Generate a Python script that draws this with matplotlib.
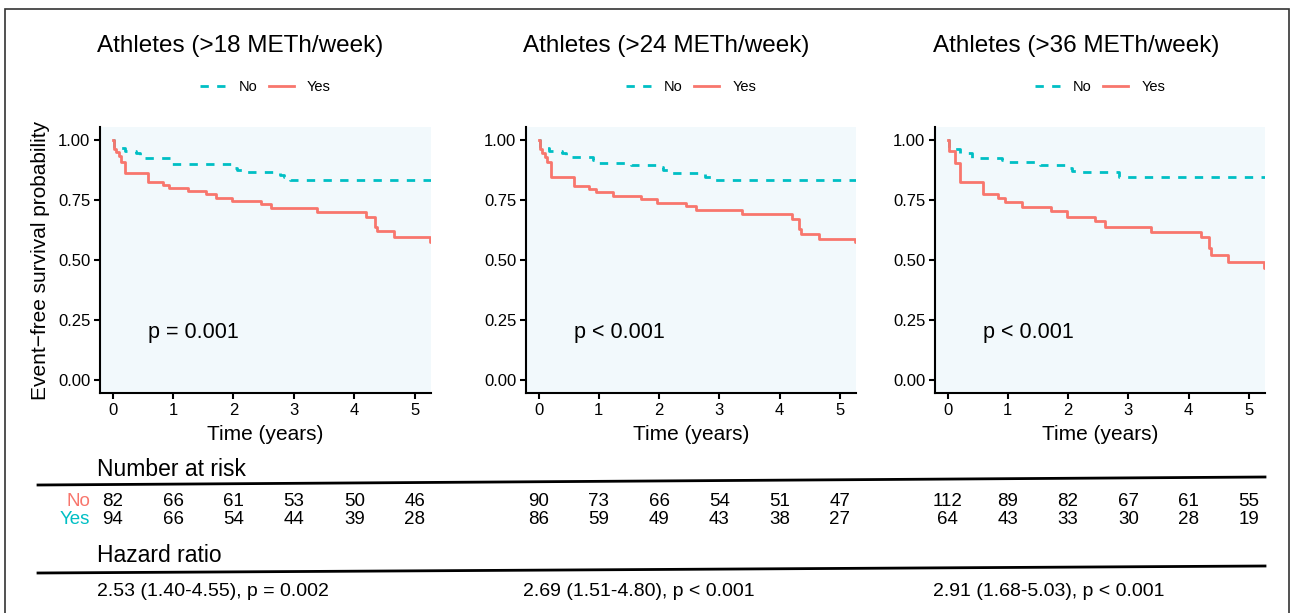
import matplotlib.pyplot as plt
from matplotlib.lines import Line2D
from matplotlib.patches import Rectangle

plt.rcParams['font.family'] = ['Liberation Sans', 'DejaVu Sans']

W, H = 1291, 613
RED = '#F8766D'
TEAL = '#00BFC4'
BG = '#F2F9FC'

titles = ['Athletes (>18 METh/week)', 'Athletes (>24 METh/week)', 'Athletes (>36 METh/week)']
pvals = ['p = 0.001', 'p < 0.001', 'p < 0.001']
hazard = ['2.53 (1.40-4.55), p = 0.002', '2.69 (1.51-4.80), p < 0.001', '2.91 (1.68-5.03), p < 0.001']

risk_times = [0, 1, 2, 3, 4, 5]
risk_no = [[82, 66, 61, 53, 50, 46], [90, 73, 66, 54, 51, 47], [112, 89, 82, 67, 61, 55]]
risk_yes = [[94, 66, 54, 44, 39, 28], [86, 59, 49, 43, 38, 27], [64, 43, 33, 30, 28, 19]]

# Kaplan-Meier steps, group "Yes" (red, solid)
yes_t = [
    [0, 0.02, 0.05, 0.1, 0.14, 0.2, 0.59, 0.84, 0.94, 1.24, 1.54, 1.71, 1.98, 2.45, 2.62, 3.38, 4.2, 4.34, 4.38, 4.65, 5.25, 5.3],
    [0, 0.02, 0.06, 0.1, 0.14, 0.21, 0.58, 0.84, 0.95, 1.23, 1.7, 1.97, 2.44, 2.62, 3.38, 4.2, 4.32, 4.35, 4.65, 5.25, 5.3],
    [0, 0.02, 0.13, 0.2, 0.59, 0.84, 0.95, 1.24, 1.71, 1.98, 2.45, 2.62, 3.38, 4.2, 4.34, 4.38, 4.65, 5.25, 5.3],
]
yes_s = [
    [1.0, 0.961, 0.95, 0.935, 0.91, 0.861, 0.824, 0.812, 0.799, 0.787, 0.775, 0.757, 0.746, 0.732, 0.715, 0.70, 0.681, 0.639, 0.622, 0.597, 0.576, 0.576],
    [1.0, 0.961, 0.944, 0.93, 0.91, 0.847, 0.808, 0.796, 0.785, 0.767, 0.753, 0.739, 0.725, 0.708, 0.69, 0.671, 0.629, 0.608, 0.589, 0.575, 0.575],
    [1.0, 0.956, 0.906, 0.826, 0.775, 0.757, 0.743, 0.722, 0.706, 0.681, 0.6625, 0.639, 0.618, 0.597, 0.549, 0.521, 0.493, 0.465, 0.465],
]
# group "No" (teal, dashed)
no_t = [
    [0, 0.02, 0.2, 0.39, 0.45, 0.95, 0.99, 2.0, 2.06, 2.14, 2.77, 2.83, 2.93, 5.3],
    [0, 0.02, 0.17, 0.39, 0.45, 0.9, 0.99, 1.54, 2.0, 2.06, 2.14, 2.77, 2.93, 5.3],
    [0, 0.02, 0.2, 0.4, 0.9, 0.99, 1.54, 2.0, 2.06, 2.14, 2.84, 5.3],
]
no_s = [
    [1.0, 0.965, 0.955, 0.945, 0.924, 0.91, 0.899, 0.885, 0.875, 0.865, 0.855, 0.845, 0.833, 0.833],
    [1.0, 0.965, 0.956, 0.944, 0.931, 0.917, 0.906, 0.896, 0.889, 0.875, 0.864, 0.847, 0.833, 0.833],
    [1.0, 0.961, 0.944, 0.924, 0.917, 0.91, 0.896, 0.882, 0.872, 0.865, 0.847, 0.847],
]

fig = plt.figure(figsize=(W / 100, H / 100), dpi=100)

def fx(px):
    return px / W

def fy(py):
    return 1 - py / H

lefts = [100, 526, 935]
rights = [431, 856, 1265]
text_left = [97, 523, 933]
top, bottom = 127, 393

# outer frame
fig.add_artist(Rectangle((fx(5), fy(640)), fx(1289) - fx(5), fy(9) - fy(640),
                         transform=fig.transFigure, fill=False, edgecolor='#333333', lw=1.2))

axes = []
for i in range(3):
    ax = fig.add_axes([fx(lefts[i]), fy(bottom), fx(rights[i]) - fx(lefts[i]), fy(top) - fy(bottom)])
    axes.append(ax)
    ax.set_facecolor(BG)
    ax.step(no_t[i], no_s[i], where='post', color=TEAL, lw=2, ls=(0, (3, 3)), label='No')
    ax.step(yes_t[i], yes_s[i], where='post', color=RED, lw=2, label='Yes')
    ax.set_xlim(-0.21, 5.27)
    ax.set_ylim(-0.054, 1.054)
    ax.set_xticks(risk_times)
    ax.set_yticks([0, 0.25, 0.5, 0.75, 1.0])
    ax.set_yticklabels(['0.00', '0.25', '0.50', '0.75', '1.00'])
    for s in ['top', 'right']:
        ax.spines[s].set_visible(False)
    for s in ['left', 'bottom']:
        ax.spines[s].set_linewidth(1.5)
    ax.tick_params(labelsize=12, width=1.5, length=4, colors='black', pad=3)
    ax.set_xlabel('Time (years)', fontsize=15, labelpad=5)
    ax.text(0.58, 0.2, pvals[i], fontsize=15.5, ha='left', va='center')
    if i == 0:
        ax.set_ylabel('Event\u2212free survival probability', fontsize=15, labelpad=6)
    fig.text(fx(text_left[i]), fy(46), titles[i], fontsize=17.5, ha='left', va='center')
    leg = ax.legend(loc='center', bbox_to_anchor=((fx(lefts[i]) + fx(rights[i])) / 2, fy(87)),
                    bbox_transform=fig.transFigure, ncol=2, frameon=False, fontsize=10.5,
                    handlelength=1.7, columnspacing=0.8, handletextpad=0.9)

# risk table
fig.text(fx(97), fy(470), 'Number at risk', fontsize=16.5, ha='left', va='center')
fig.add_artist(Line2D([fx(38), fx(1265)], [fy(485), fy(477)], transform=fig.transFigure, color='black', lw=2))
fig.text(fx(90), fy(501), 'No', fontsize=13.5, color=RED, ha='right', va='center')
fig.text(fx(90), fy(520), 'Yes', fontsize=13.5, color=TEAL, ha='right', va='center')
for i, ax in enumerate(axes):
    for j, t in enumerate(risk_times):
        x_disp = ax.transData.transform((t, 0))[0]
        xf = fig.transFigure.inverted().transform((x_disp, 0))[0]
        fig.text(xf, fy(501), str(risk_no[i][j]), fontsize=13.5, ha='center', va='center')
        fig.text(xf, fy(520), str(risk_yes[i][j]), fontsize=13.5, ha='center', va='center')

fig.text(fx(97), fy(556), 'Hazard ratio', fontsize=16.5, ha='left', va='center')
fig.add_artist(Line2D([fx(38), fx(1265)], [fy(573), fy(566)], transform=fig.transFigure, color='black', lw=2))
for i in range(3):
    fig.text(fx(text_left[i]), fy(591), hazard[i], fontsize=14, ha='left', va='center')

fig.savefig('out.png', dpi=100)
